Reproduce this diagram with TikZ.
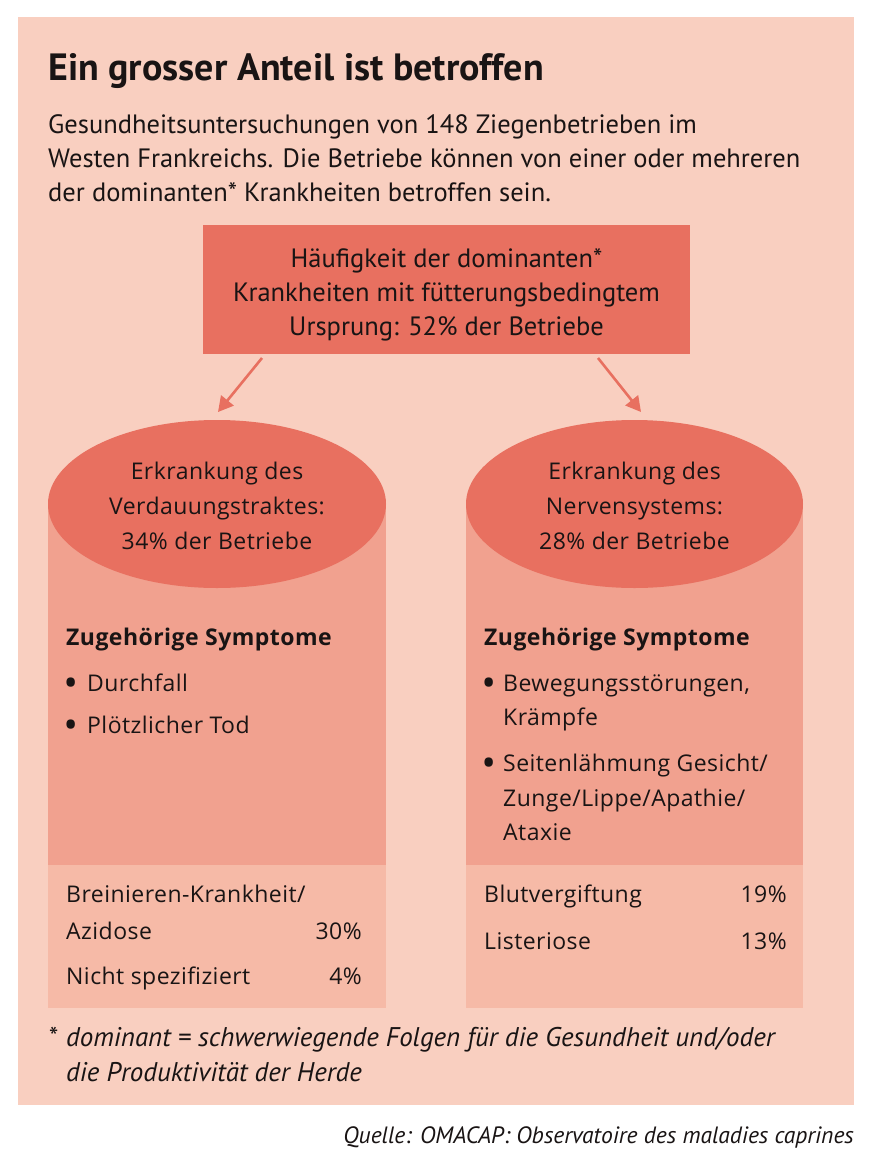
\documentclass[tikz,border=0pt]{standalone}
\usepackage{fontspec}
\usetikzlibrary{arrows.meta,shapes.geometric}
\setmainfont{PT Sans}
\newfontfamily\condf{PT Sans}
\newfontfamily\cylf[LetterSpace=2]{Open Sans}
\definecolor{panel}{RGB}{249,207,192}
\definecolor{boxred}{RGB}{232,112,96}
\definecolor{bodyc}{RGB}{241,161,143}
\definecolor{lowerc}{RGB}{246,186,167}
\definecolor{ink}{RGB}{25,20,20}
\tikzset{
  ttl/.style={anchor=base west, text=ink, font=\condf\bfseries\fontsize{38}{44}\selectfont, inner sep=0},
  intro/.style={anchor=base west, text=ink, font=\condf\fontsize{26.5}{34}\selectfont, inner sep=0},
  boxtxt/.style={anchor=base, text=ink, font=\condf\fontsize{26.5}{34}\selectfont, inner sep=0},
  cyl/.style={anchor=base west, text=ink, font=\cylf\fontsize{23}{35}\selectfont, inner sep=0},
  cylc/.style={anchor=base, text=ink, font=\cylf\fontsize{23}{35}\selectfont, inner sep=0},
  cylr/.style={anchor=base east, text=ink, font=\cylf\fontsize{23}{35}\selectfont, inner sep=0},
  cylb/.style={anchor=base west, text=ink, font=\cylf\bfseries\fontsize{23}{35}\selectfont, inner sep=0},
  bul/.style={anchor=base west, text=ink, font=\cylf\bfseries\fontsize{30}{35}\selectfont, inner sep=0},
  foot/.style={anchor=base west, text=ink, font=\condf\itshape\fontsize{27}{34}\selectfont, inner sep=0},
  src/.style={anchor=base east, text=ink, font=\condf\itshape\fontsize{23.6}{30}\selectfont, inner sep=0},
  arr/.style={draw=boxred, line width=2.6pt, -{Triangle[length=15pt,width=16pt]}},
  ell/.style={ellipse, fill=boxred, minimum width=338pt, minimum height=168pt, inner sep=0}
}
\begin{document}
\begin{tikzpicture}[x=1pt,y=-1pt]
\useasboundingbox (0,0) rectangle (880,1172);
\fill[white] (0,0) rectangle (880,1172);
\fill[panel] (18,17) rectangle (854,1105);

\node[ttl] (title) at (48,81) {Ein grosser Anteil ist betroffen};
\node[intro] (in1) at (48,133) {Gesundheitsuntersuchungen von 148 Ziegenbetrieben im};
\node[intro] (in2) at (48,167) {Westen Frankreichs. Die Betriebe können von einer oder mehreren};
\node[intro] (in3) at (48,201) {der dominanten* Krankheiten betroffen sein.};

% top box
\node[fill=boxred, minimum width=487pt, minimum height=129pt, inner sep=0] (top) at (446.5,289.5) {};
\node[boxtxt] (t1) at (446.5,267) {Häufigkeit der dominanten*};
\node[boxtxt] (t2) at (446.5,301) {Krankheiten mit fütterungsbedingtem};
\node[boxtxt] (t3) at (446.5,335) {Ursprung: 52\% der Betriebe};

% columns
\fill[bodyc] (48,504) rectangle (386,865);
\fill[lowerc] (48,865) rectangle (386,1008);
\fill[bodyc] (466,504) rectangle (803,865);
\fill[lowerc] (466,865) rectangle (803,1008);
\node[ell] (e1) at (217,504) {};
\node[ell, minimum width=337pt] (e2) at (634.5,504) {};

% arrows
\coordinate (a1s) at (262,358);
\coordinate (a1e) at (218,412);
\coordinate (a2s) at (598,358);
\coordinate (a2e) at (641,412);
\draw[arr] (a1s) -- (a1e);
\draw[arr] (a2s) -- (a2e);

% ellipse texts
\node[cylc] (l1) at (217,479) {Erkrankung des};
\node[cylc] (l2) at (217,514) {Verdauungstraktes:};
\node[cylc] (l3) at (217,549) {34\% der Betriebe};
\node[cylc] (r1) at (634.5,479) {Erkrankung des};
\node[cylc] (r2) at (634.5,514) {Nervensystems:};
\node[cylc] (r3) at (634.5,549) {28\% der Betriebe};

% symptoms left
\node[cylb] (ls) at (66,645) {Zugehörige Symptome};
\node[bul] (lb1) at (65,693) {•};
\node[cyl] (li1) at (87,691) {Durchfall};
\node[bul] (lb2) at (65,735) {•};
\node[cyl] (li2) at (87,733) {Plötzlicher Tod};

% symptoms right
\node[cylb] (rs) at (484,645) {Zugehörige Symptome};
\node[bul] (rb1) at (483,693) {•};
\node[cyl] (ri1) at (503,691) {Bewegungsstörungen,};
\node[cyl] (ri1b) at (503,725) {Krämpfe};
\node[bul] (rb2) at (483,773) {•};
\node[cyl] (ri2) at (503,771) {Seitenlähmung Gesicht/};
\node[cyl] (ri2b) at (503,806) {Zunge/Lippe/Apathie/};
\node[cyl] (ri2c) at (503,840) {Ataxie};

% lower left
\node[cyl] (ll1) at (66,902) {Breinieren-Krankheit/};
\node[cyl] (ll2) at (66,939) {Azidose};
\node[cylr] (lp1) at (362,939) {30\%};
\node[cyl] (ll3) at (66,984) {Nicht spezifiziert};
\node[cylr] (lp2) at (362,984) {4\%};

% lower right
\node[cyl] (rl1) at (484,902) {Blutvergiftung};
\node[cylr] (rp1) at (787,902) {19\%};
\node[cyl] (rl2) at (484,949) {Listeriose};
\node[cylr] (rp2) at (787,949) {13\%};

% footnote
\node[foot] (f0) at (48,1046) {*};
\node[foot] (f1) at (66,1046) {dominant = schwerwiegende Folgen für die Gesundheit und/oder};
\node[foot] (f2) at (66,1081) {die Produktivität der Herde};

\node[src] (source) at (854,1143) {Quelle: OMACAP: Observatoire des maladies caprines};
\end{tikzpicture}
\end{document}
